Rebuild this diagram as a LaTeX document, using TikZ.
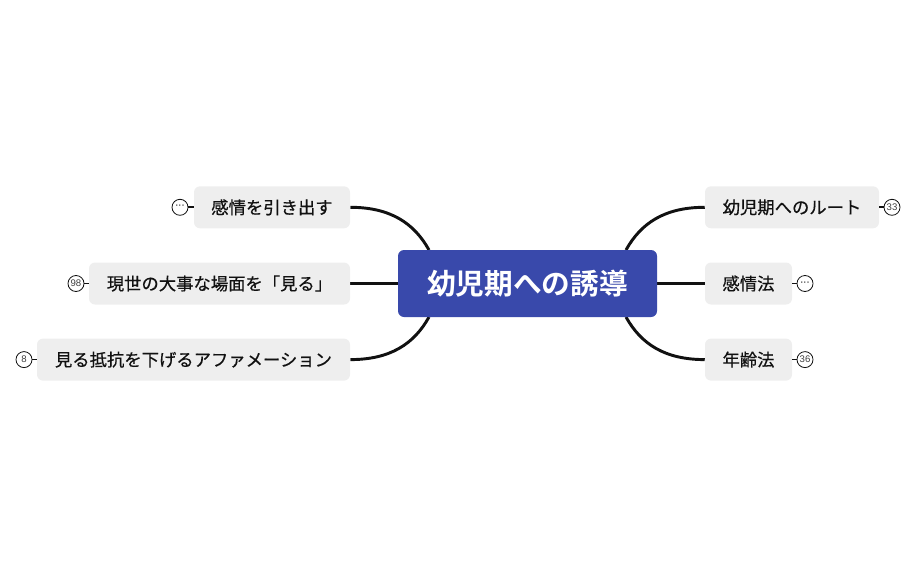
\documentclass[tikz,border=0pt]{standalone}
\usepackage{fontspec}
\setmainfont{Noto Sans CJK JP}[BoldFont={Noto Sans CJK JP Bold}]
\newfontfamily\countfont{Liberation Sans}
\usetikzlibrary{backgrounds}
\definecolor{rootblue}{HTML}{3949AB}
\definecolor{topicgray}{HTML}{EEEEEE}
\definecolor{linedark}{HTML}{111111}
\newcommand{\moredots}{\textcolor{black}{\fontsize{8}{8}\selectfont\raisebox{0.3pt}{·\kern-0.4pt·\kern-0.4pt·}}}
\tikzset{
  root/.style={fill=rootblue,text=white,rounded corners=4.5pt,inner sep=0pt,font=\fontsize{21.5}{24}\selectfont\bfseries},
  topic/.style={fill=topicgray,text=linedark,rounded corners=4.5pt,inner sep=0pt,minimum height=42*0.75pt,font=\fontsize{13}{15}\selectfont\addfontfeatures{FakeBold=0.5}},
  count/.style={circle,draw=linedark,fill=white,line width=0.6pt,inner sep=0pt,minimum size=16*0.75pt,text=black!75,font=\countfont\fontsize{7.2}{8}\selectfont},
  branch/.style={draw=linedark,line width=2.2pt},
  stub/.style={draw=linedark,line width=1.3pt},
}
\begin{document}
\begin{tikzpicture}[x=0.75pt,y=-0.75pt]
\useasboundingbox (0,0) rectangle (916,567);
%Hauptknoten
\node[root,minimum width=259*0.75pt,minimum height=67*0.75pt] (main) at (527.5,283.5) {幼児期への誘導};
\coordinate (mainNW) at (429,250);
\coordinate (mainNE) at (626,250);
\coordinate (mainSW) at (429,317);
\coordinate (mainSE) at (626,317);
%links
\node[topic,minimum width=156*0.75pt] (gefuehl) at (272,207.3) {感情を引き出す};
\node[topic,minimum width=261*0.75pt] (genwa) at (219.5,283.5) {現世の大事な場面を「見る」};
\node[topic,minimum width=313*0.75pt] (miru) at (193.5,359.6) {見る抵抗を下げるアファメーション};
%rechts
\node[topic,minimum width=174*0.75pt] (route) at (792,207.3) {幼児期へのルート};
\node[topic,minimum width=87*0.75pt] (kanjo) at (748.5,283.5) {感情法};
\node[topic,minimum width=87*0.75pt] (nenrei) at (748.5,359.6) {年齢法};
%Zaehler
\node[count] (cntA) at (180,207.3) {\moredots};
\node[count] (cntB) at (76,283.5) {98};
\node[count] (cntC) at (24,359.6) {8};
\node[count] (cntD) at (892,207.3) {33};
\node[count] (cntE) at (805,283.5) {\moredots};
\node[count] (cntF) at (805,359.6) {36};
\foreach \a/\b in {cntA/gefuehl,cntB/genwa,cntC/miru}{
\draw[stub] (\a.east) -- (\b.west);
}
\foreach \a/\b in {cntD/route,cntE/kanjo,cntF/nenrei}{
\draw[stub] (\a.west) -- (\b.east);
}
\begin{pgfonlayer}{background}
\draw[branch] (gefuehl.east) .. controls +(40,0) and +(-15,-27) .. (mainNW);
\draw[branch] (genwa.east) -- (main.west);
\draw[branch] (miru.east) .. controls +(40,0) and +(-15,27) .. (mainSW);
\draw[branch] (route.west) .. controls +(-40,0) and +(15,-27) .. (mainNE);
\draw[branch] (kanjo.west) -- (main.east);
\draw[branch] (nenrei.west) .. controls +(-40,0) and +(15,27) .. (mainSE);
\end{pgfonlayer}
\end{tikzpicture}
\end{document}
